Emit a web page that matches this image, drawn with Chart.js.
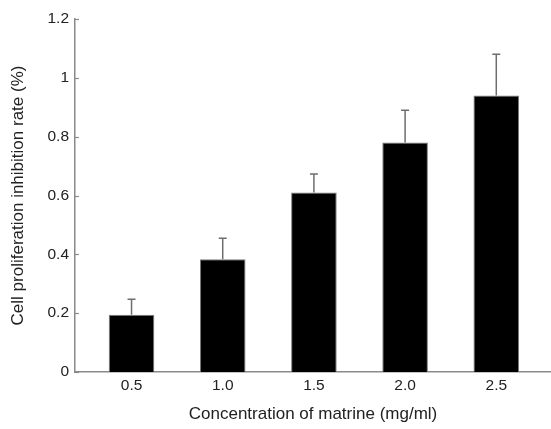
<!DOCTYPE html>
<html>
<head>
<meta charset="utf-8">
<script src="https://cdn.jsdelivr.net/npm/chart.js@4"></script>
<style>
html,body{margin:0;padding:0;background:#fff;}
</style>
</head>
<body>
<canvas id="chart" width="551" height="429"></canvas>
<script>
// concentrations of matrine (mg/ml)
let concentrations = [0.5, 1.0, 1.5, 2.0, 2.5];
// mean inhibition rate and upper error
let rates = [0.195, 0.383, 0.61, 0.78, 0.94];
let errors = [0.052, 0.072, 0.063, 0.11, 0.14];
let yTicks = [0, 0.2, 0.4, 0.6, 0.8, 1, 1.2];

let axisGray = "#8a8a8a";
let font = "'Liberation Sans', Arial, sans-serif";

/* error bars on top of each bar */
let errorBars = {
id:"errorBars",
afterDatasetsDraw(chart){
let ctx = chart.ctx;
let y = chart.scales.y;
chart.getDatasetMeta(0).data.forEach((bar,i)=>{
let top = y.getPixelForValue(rates[i] + errors[i]);
ctx.save();
ctx.strokeStyle = "#6e6e6e";
ctx.lineWidth = 1.5;
ctx.beginPath();
ctx.moveTo(bar.x, bar.y);
ctx.lineTo(bar.x, top);
ctx.moveTo(bar.x - 4, top);
ctx.lineTo(bar.x + 4, top);
ctx.stroke();
ctx.restore();
});
}
};

/* small inward tick marks on the y axis */
let innerTicks = {
id:"innerTicks",
afterDraw(chart){
let ctx = chart.ctx;
let y = chart.scales.y;
let left = chart.chartArea.left;
ctx.save();
ctx.strokeStyle = axisGray;
ctx.lineWidth = 1.2;
y.ticks.forEach(t=>{
let py = Math.round(y.getPixelForValue(t.value)) + 0.5;
ctx.beginPath();
ctx.moveTo(left, py);
ctx.lineTo(left + 4, py);
ctx.stroke();
});
ctx.restore();
}
};

new Chart(document.getElementById("chart"), {
type:"bar",
data:{
datasets:[{
data:concentrations.map((c,i)=>({x:c, y:rates[i]})),
backgroundColor:"#000",
borderColor:"#7a7a7a",
borderWidth:1,
barPercentage:0.5,
categoryPercentage:1
}]
},
options:{
responsive:false,
animation:false,
events:[],
layout:{padding:{top:19, right:0, left:0, bottom:0}},
plugins:{legend:{display:false}, tooltip:{enabled:false}},
scales:{
x:{
type:"linear",
offset:false,
min:0.19,
max:2.8,
afterBuildTicks(scale){ scale.ticks = concentrations.map(v=>({value:v})); },
afterFit(scale){ scale.height = 57; },
grid:{display:false, drawTicks:false},
border:{display:true, color:axisGray, width:1.5},
ticks:{
padding:4,
color:"#222",
font:{family:font, size:15.5},
callback:v=>v.toFixed(1)
},
title:{
display:true,
text:"Concentration of matrine (mg/ml)",
color:"#222",
font:{family:font, size:17},
padding:{top:6, bottom:4}
}
},
y:{
min:0,
max:1.2,
afterBuildTicks(scale){ scale.ticks = yTicks.map(v=>({value:v})); },
afterFit(scale){ scale.width = 75; },
grid:{display:false, drawTicks:false},
border:{display:true, color:axisGray, width:1.5},
ticks:{
padding:6,
color:"#222",
font:{family:font, size:15.5},
callback:v=>String(Math.round(v*10)/10)
},
title:{
display:true,
text:"Cell proliferation inhibition rate (%)",
color:"#222",
font:{family:font, size:17},
padding:{top:8, bottom:2}
}
}
}
},
plugins:[errorBars, innerTicks]
});
</script>
</body>
</html>
